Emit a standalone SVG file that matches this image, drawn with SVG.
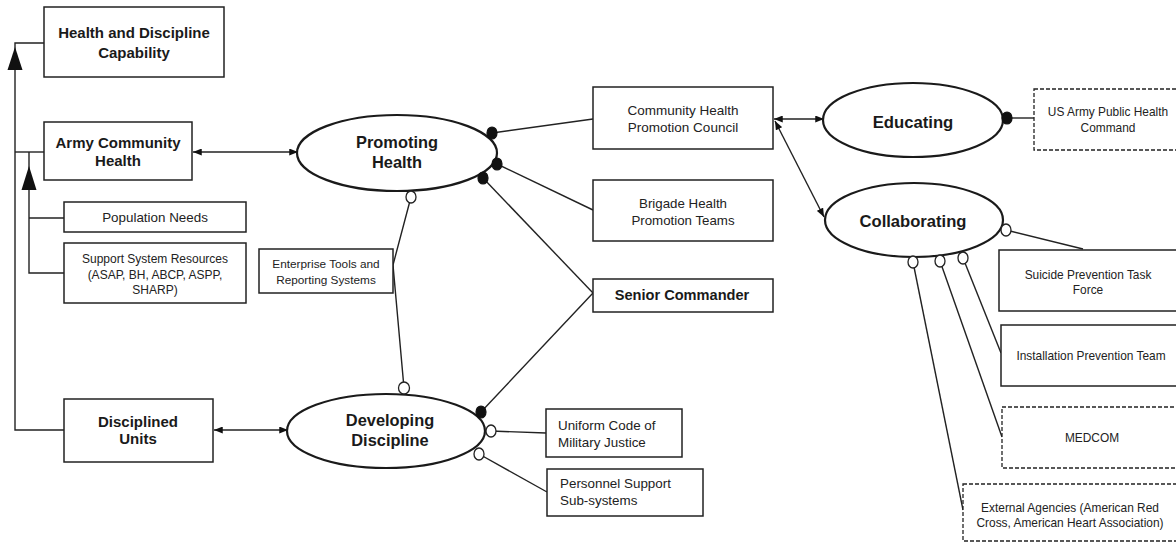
<svg xmlns="http://www.w3.org/2000/svg" width="1176" height="545" viewBox="0 0 1176 545">
<style>
  .box{fill:#fff;stroke:#222;stroke-width:1.5}
  .dbox{fill:#fff;stroke:#222;stroke-width:1.3;stroke-dasharray:4 2}
  .ell{fill:#fff;stroke:#1a1a1a;stroke-width:2.2}
  .ln{fill:none;stroke:#222;stroke-width:1.4}
  .b{font-family:"Liberation Sans",Arial,sans-serif;font-weight:bold;fill:#1a1a1a;text-anchor:middle}
  .r{font-family:"Liberation Sans",Arial,sans-serif;fill:#222;text-anchor:middle}
  .l{font-family:"Liberation Sans",Arial,sans-serif;fill:#222;text-anchor:start}
  .fc{fill:#111;stroke:#111;stroke-width:1.2}
  .oc{fill:#fff;stroke:#222;stroke-width:1.3}
</style>
<defs>
  <marker id="ah" viewBox="0 0 10 8" refX="10" refY="4" markerWidth="9" markerHeight="7" markerUnits="userSpaceOnUse" orient="auto-start-reverse">
    <path d="M0,0 L10,4 L0,8 z" fill="#111"/>
  </marker>
</defs>

<g id="connectors">
  <!-- left feedback structure -->
  <polyline class="ln" points="44,43 15,43 15,430 64,430"/>
  <polygon points="15,47 7.5,70 22.5,70" fill="#111"/>
  <line class="ln" x1="15" y1="152" x2="44" y2="152"/>
  <polyline class="ln" points="29,152 29,273 64,273"/>
  <line class="ln" x1="29" y1="218" x2="64" y2="218"/>
  <polygon points="29,166 21.5,190 36.5,190" fill="#111"/>
  <!-- double arrows -->
  <line class="ln" x1="193" y1="152" x2="298" y2="152" marker-start="url(#ah)" marker-end="url(#ah)"/>
  <line class="ln" x1="214" y1="430" x2="288" y2="430" marker-start="url(#ah)" marker-end="url(#ah)"/>
  <line class="ln" x1="774" y1="119" x2="824" y2="119" marker-start="url(#ah)" marker-end="url(#ah)"/>
  <line class="ln" x1="775" y1="121" x2="824" y2="217" marker-start="url(#ah)" marker-end="url(#ah)"/>
  <!-- Promoting Health links -->
  <line class="ln" x1="492" y1="133" x2="593" y2="119"/>
  <line class="ln" x1="497" y1="164" x2="593" y2="210"/>
  <line class="ln" x1="483" y1="178" x2="593" y2="293"/>
  <polyline class="ln" points="411,197 393,265 404,388"/>
  <!-- Developing Discipline links -->
  <line class="ln" x1="481" y1="412" x2="593" y2="293"/>
  <line class="ln" x1="491" y1="431" x2="546" y2="433"/>
  <line class="ln" x1="479" y1="454" x2="547" y2="492"/>
  <!-- Educating / Collaborating links -->
  <line class="ln" x1="1007" y1="118" x2="1034" y2="118"/>
  <line class="ln" x1="1006" y1="230" x2="1083" y2="249"/>
  <line class="ln" x1="913" y1="262" x2="963" y2="510"/>
  <line class="ln" x1="940" y1="261" x2="1002" y2="437"/>
  <line class="ln" x1="963" y1="258" x2="1001" y2="353"/>
</g>

<g id="n-capability">
  <rect class="box" x="44" y="7" width="180" height="70"/>
  <text class="b" font-size="15" x="134" y="38">Health and Discipline</text>
  <text class="b" font-size="15" x="134" y="58">Capability</text>
</g>
<g id="n-army-community-health">
  <rect class="box" x="44" y="122" width="148" height="58"/>
  <text class="b" font-size="15" x="118" y="148">Army Community</text>
  <text class="b" font-size="15" x="118" y="166">Health</text>
</g>
<g id="n-population-needs">
  <rect class="box" x="64" y="202" width="182" height="30"/>
  <text class="r" font-size="13.4" x="155" y="222">Population Needs</text>
</g>
<g id="n-support-system">
  <rect class="box" x="64" y="243" width="182" height="60"/>
  <text class="r" font-size="12" x="155" y="263">Support System Resources</text>
  <text class="r" font-size="12" x="155" y="279">(ASAP, BH, ABCP, ASPP,</text>
  <text class="r" font-size="12" x="155" y="294">SHARP)</text>
</g>
<g id="n-enterprise-tools">
  <rect class="box" x="259" y="249" width="134" height="44"/>
  <text class="r" font-size="11.8" x="326" y="268">Enterprise Tools and</text>
  <text class="r" font-size="11.8" x="326" y="284">Reporting Systems</text>
</g>
<g id="n-disciplined-units">
  <rect class="box" x="64" y="399" width="149" height="63"/>
  <text class="b" font-size="15" x="138" y="427">Disciplined</text>
  <text class="b" font-size="15" x="138" y="444">Units</text>
</g>
<g id="n-promoting-health">
  <ellipse class="ell" cx="397" cy="153" rx="100" ry="38"/>
  <text class="b" font-size="16.4" x="397" y="148">Promoting</text>
  <text class="b" font-size="16.4" x="397" y="168">Health</text>
</g>
<g id="n-developing-discipline">
  <ellipse class="ell" cx="386" cy="431" rx="99" ry="37"/>
  <text class="b" font-size="16.4" x="390" y="426">Developing</text>
  <text class="b" font-size="16.4" x="390" y="446">Discipline</text>
</g>
<g id="n-chpc">
  <rect class="box" x="593" y="87" width="180" height="62"/>
  <text class="r" font-size="13.5" x="683" y="115">Community Health</text>
  <text class="r" font-size="13.5" x="683" y="132">Promotion Council</text>
</g>
<g id="n-brigade">
  <rect class="box" x="593" y="180" width="180" height="61"/>
  <text class="r" font-size="13.3" x="683" y="208">Brigade Health</text>
  <text class="r" font-size="13.3" x="683" y="225">Promotion Teams</text>
</g>
<g id="n-senior-commander">
  <rect class="box" x="593" y="279" width="180" height="33"/>
  <text class="b" font-size="14.6" x="682" y="300">Senior Commander</text>
</g>
<g id="n-ucmj">
  <rect class="box" x="546" y="409" width="136" height="48"/>
  <text class="l" font-size="13.4" x="558" y="430">Uniform Code of</text>
  <text class="l" font-size="13.4" x="558" y="447">Military Justice</text>
</g>
<g id="n-personnel">
  <rect class="box" x="547" y="469" width="156" height="47"/>
  <text class="l" font-size="13.4" x="560" y="488">Personnel Support</text>
  <text class="l" font-size="13.4" x="560" y="505">Sub-systems</text>
</g>
<g id="n-educating">
  <ellipse class="ell" cx="913" cy="120" rx="90" ry="37"/>
  <text class="b" font-size="16.7" x="913" y="128">Educating</text>
</g>
<g id="n-collaborating">
  <ellipse class="ell" cx="914" cy="220" rx="89" ry="37"/>
  <text class="b" font-size="16.6" x="913" y="227">Collaborating</text>
</g>
<g id="n-usaphc">
  <rect class="dbox" x="1034" y="89" width="150" height="61"/>
  <text class="r" font-size="11.9" x="1108" y="116">US Army Public Health</text>
  <text class="r" font-size="11.9" x="1108" y="132">Command</text>
</g>
<g id="n-suicide">
  <rect class="box" x="999" y="250" width="185" height="61"/>
  <text class="r" font-size="11.9" x="1088" y="279">Suicide Prevention Task</text>
  <text class="r" font-size="11.9" x="1088" y="294">Force</text>
</g>
<g id="n-installation">
  <rect class="box" x="1001" y="325" width="185" height="61"/>
  <text class="r" font-size="11.9" x="1091" y="360">Installation Prevention Team</text>
</g>
<g id="n-medcom">
  <rect class="dbox" x="1002" y="407" width="185" height="61"/>
  <text class="r" font-size="11.9" x="1092" y="442">MEDCOM</text>
</g>
<g id="n-external">
  <rect class="dbox" x="963" y="484" width="220" height="57"/>
  <text class="r" font-size="11.9" x="1070" y="512">External Agencies (American Red</text>
  <text class="r" font-size="11.9" x="1070" y="527">Cross, American Heart Association)</text>
</g>

<g id="connector-ends">
  <ellipse class="fc" cx="492" cy="133" rx="5" ry="6"/>
  <ellipse class="fc" cx="497" cy="164" rx="5" ry="6"/>
  <ellipse class="fc" cx="483" cy="178" rx="5" ry="6"/>
  <ellipse class="oc" cx="411" cy="197" rx="5" ry="6"/>
  <ellipse class="oc" cx="404" cy="388" rx="5.5" ry="6"/>
  <ellipse class="fc" cx="481" cy="412" rx="5" ry="6"/>
  <ellipse class="oc" cx="491" cy="431" rx="5" ry="6"/>
  <ellipse class="oc" cx="479" cy="454" rx="5" ry="6"/>
  <ellipse class="fc" cx="1007" cy="118" rx="5" ry="6"/>
  <ellipse class="oc" cx="1006" cy="230" rx="5" ry="6"/>
  <ellipse class="oc" cx="913" cy="262" rx="5" ry="6"/>
  <ellipse class="oc" cx="940" cy="261" rx="5" ry="6"/>
  <ellipse class="oc" cx="963" cy="258" rx="5" ry="6"/>
</g>
</svg>
